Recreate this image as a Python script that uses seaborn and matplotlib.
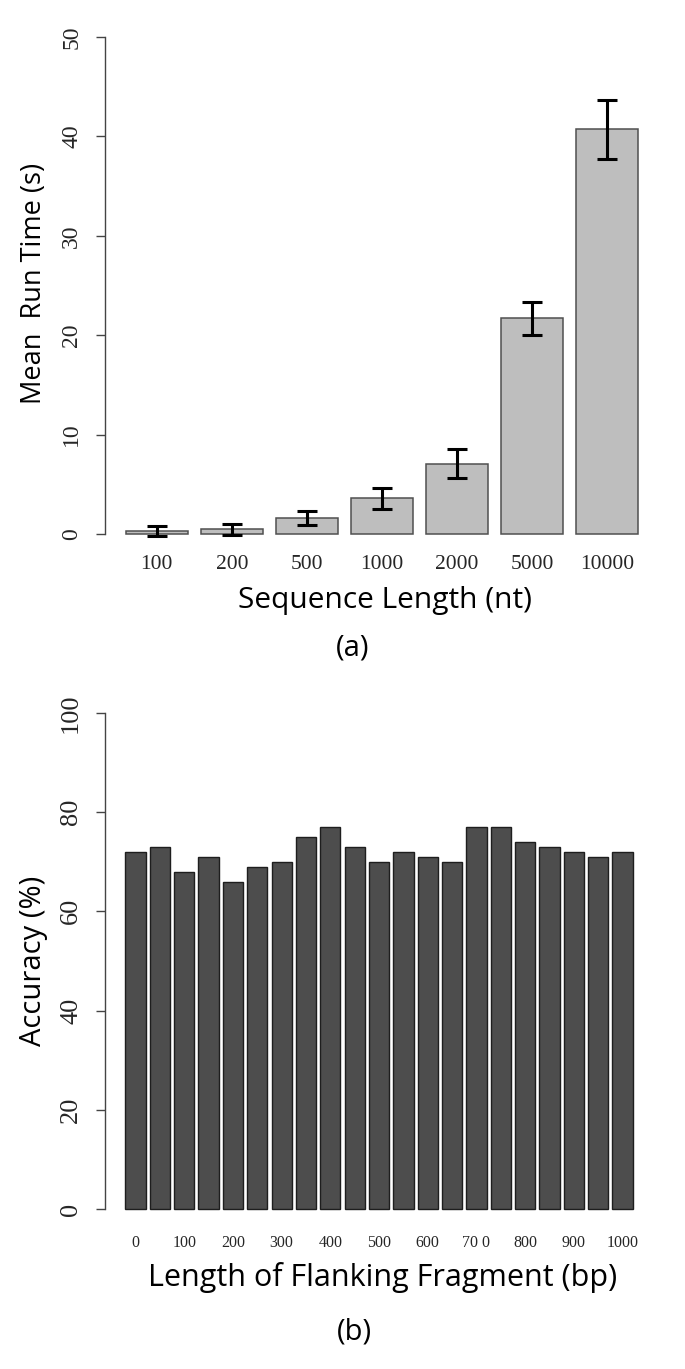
import numpy as np
import pandas as pd
import matplotlib
matplotlib.use("Agg")
import matplotlib.pyplot as plt
import seaborn as sns

# (a) run time vs sequence length
seq_len = ["100", "200", "500", "1000", "2000", "5000", "10000"]
run_mean = [0.30, 0.50, 1.60, 3.60, 7.10, 21.7, 40.7]
run_err = [0.50, 0.54, 0.70, 1.08, 1.45, 1.67, 2.95]

# (b) accuracy vs flanking fragment length
flank_len = [str(v) for v in range(0, 1001, 50)]
accuracy = [72, 73, 68, 71, 66, 69, 70, 75, 77, 73, 70,
            72, 71, 70, 77, 77, 74, 73, 72, 71, 72]
flank_ticklabels = ["0", "100", "200", "300", "400", "500",
                    "600", "70 0", "800", "900", "1000"]

sns.set_style("white")
plt.rcParams['font.family'] = ['Liberation Serif', 'DejaVu Serif']

SANS = ['Open Sans', 'DejaVu Sans']
AXC = '#444444'

fig = plt.figure(figsize=(6.85, 13.69), dpi=100)
W, H = 685.0, 1369.0

def axes_px(x0, y0, x1, y1):
    return fig.add_axes([x0 / W, 1 - y1 / H, (x1 - x0) / W, (y1 - y0) / H])

def style_axes(ax, top, ysize):
    for s in ['top', 'right', 'bottom']:
        ax.spines[s].set_visible(False)
    ax.spines['left'].set_bounds(0, top)
    ax.spines['left'].set_color(AXC)
    ax.spines['left'].set_linewidth(1.0)
    ax.tick_params(axis='y', direction='out', length=6.5, width=1.0,
                   color=AXC, pad=10, labelsize=ysize, left=True)
    for lab in ax.get_yticklabels():
        lab.set_rotation(90)
        lab.set_va('center')
    ax.tick_params(axis='x', length=0)
    ax.set_xlabel("")
    ax.set_ylabel("")

# ---- panel (a)
ax1 = axes_px(105, 17, 659, 554)
df1 = pd.DataFrame({"len": seq_len, "time": run_mean})
sns.barplot(data=df1, x="len", y="time", ax=ax1, color="#bebebe",
            saturation=1, width=1 / 1.2, edgecolor="#505050",
            linewidth=1.1, errorbar=None)
ax1.errorbar(np.arange(len(seq_len)), run_mean, yerr=run_err, fmt='none',
             ecolor='black', elinewidth=2.2, capsize=7, capthick=2.2, zorder=5)
ax1.set_xlim(-0.69, 6.69)
ax1.set_ylim(-2, 52)
ax1.set_yticks([0, 10, 20, 30, 40, 50])
style_axes(ax1, 50, 17)
ax1.tick_params(axis='x', labelsize=15.5, pad=1)

fig.text(385 / W, 1 - 608 / H, "Sequence Length (nt)", family=SANS,
         fontsize=21.5, ha='center', va='baseline', color='black')
fig.text(353 / W, 1 - 655 / H, "(a)", family=SANS,
         fontsize=21, ha='center', va='baseline', color='black')
fig.text(34 / W, 1 - 283 / H, "Mean  Run Time (s)", family=SANS,
         fontsize=19.5, ha='center', va='center', rotation=90, color='black')

# ---- panel (b)
ax2 = axes_px(105, 693, 657, 1229)
df2 = pd.DataFrame({"flank": flank_len, "acc": accuracy})
sns.barplot(data=df2, x="flank", y="acc", ax=ax2, color="#4d4d4d",
            saturation=1, width=1 / 1.2, edgecolor="#1e1e1e",
            linewidth=1.0, errorbar=None)
ax2.set_xlim(-1.257, 21.42)
ax2.set_ylim(-4, 104)
ax2.set_yticks([0, 20, 40, 60, 80, 100])
ax2.set_xticks(np.arange(0, len(flank_len), 2))
ax2.set_xticklabels(flank_ticklabels)
style_axes(ax2, 100, 19)
ax2.tick_params(axis='x', labelsize=11.5, pad=4)

fig.text(383 / W, 1 - 1286 / H, "Length of Flanking Fragment (bp)",
         family=SANS, fontsize=22, ha='center', va='baseline', color='black')
fig.text(354 / W, 1 - 1340 / H, "(b)", family=SANS,
         fontsize=21, ha='center', va='baseline', color='black')
fig.text(34 / W, 1 - 961 / H, "Accuracy (%)", family=SANS,
         fontsize=21, ha='center', va='center', rotation=90, color='black')

fig.savefig("out.png", dpi=100)
